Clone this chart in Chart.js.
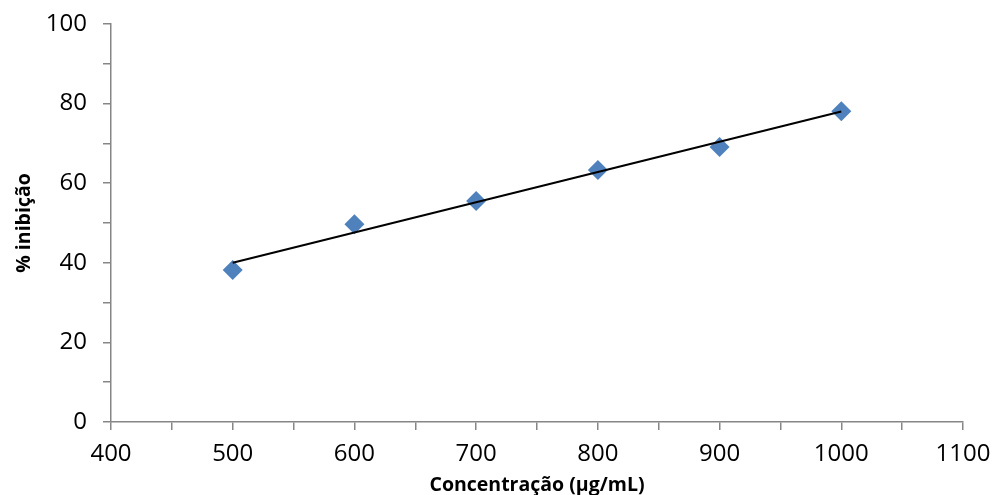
<!DOCTYPE html>
<html>
<head>
<meta charset="utf-8">
<script src="https://cdn.jsdelivr.net/npm/chart.js@4.4.0/dist/chart.umd.min.js"></script>
<style>
  html, body { margin: 0; padding: 0; background: #ffffff; }
  #wrap { width: 992px; height: 495px; }
</style>
</head>
<body>
<div id="wrap"><canvas id="c" width="992" height="495"></canvas></div>
<script>
// Data
const concentrations = [500, 600, 700, 800, 900, 1000];
const inhibition = [38.2, 49.7, 55.5, 63.3, 69.1, 78.1];
// Linear trendline end points
const trendX = [500, 1000];
const trendY = [40.0, 78.0];
// Axis settings
const xMin = 400, xMax = 1100, xMajor = 100, xMinor = 50;
const yMin = 0, yMax = 100, yMajor = 20, yMinor = 10;
const xTitle = 'Concentração (µg/mL)';
const yTitle = '% inibição';

const pointData = concentrations.map((x, i) => ({ x: x, y: inhibition[i] }));
const trendData = trendX.map((x, i) => ({ x: x, y: trendY[i] }));

const axisGray = '#868686';
const tickFont = { family: "'Open Sans', sans-serif", size: 24 };
const titleFont = { family: "'Open Sans', sans-serif", size: 19.5, weight: 'bold' };

new Chart(document.getElementById('c'), {
  type: 'scatter',
  data: {
    datasets: [
      {
        label: 'Linear',
        type: 'line',
        data: trendData,
        borderColor: '#000000',
        borderWidth: 2,
        pointRadius: 0,
        fill: false,
        order: 0
      },
      {
        label: '% inibição',
        data: pointData,
        pointStyle: 'rectRot',
        pointRadius: 10,
        pointHoverRadius: 10,
        backgroundColor: '#4F81BD',
        borderColor: '#4F81BD',
        borderWidth: 0,
        order: 1
      }
    ]
  },
  options: {
    responsive: false,
    animation: false,
    devicePixelRatio: 1,
    layout: { padding: { top: 24, right: 29, left: 0, bottom: 0 } },
    plugins: {
      legend: { display: false },
      tooltip: { enabled: false }
    },
    scales: {
      x: {
        type: 'linear',
        min: xMin,
        max: xMax,
        afterFit: (s) => { s.height = 73; s.paddingLeft = 0; s.paddingRight = 0; },
        ticks: {
          stepSize: xMinor,
          color: '#000000',
          font: tickFont,
          padding: 10,
          maxRotation: 0,
          autoSkip: false,
          callback: (v) => (v % xMajor === 0 ? String(v) : '')
        },
        grid: {
          drawOnChartArea: false,
          drawTicks: true,
          tickLength: 8,
          color: axisGray,
          lineWidth: 1.5
        },
        border: { display: true, color: axisGray, width: 1.5 },
        title: {
          display: true,
          text: xTitle,
          color: '#000000',
          font: titleFont,
          padding: { top: 0, bottom: -2 }
        }
      },
      y: {
        type: 'linear',
        min: yMin,
        max: yMax,
        afterFit: (s) => { s.width = 111; s.paddingTop = 0; s.paddingBottom = 0; },
        ticks: {
          stepSize: yMinor,
          color: '#000000',
          font: tickFont,
          padding: 16,
          autoSkip: false,
          callback: (v) => (v % yMajor === 0 ? String(v) : '')
        },
        grid: {
          drawOnChartArea: false,
          drawTicks: true,
          tickLength: 8,
          color: axisGray,
          lineWidth: 1.5
        },
        border: { display: true, color: axisGray, width: 1.5 },
        title: {
          display: true,
          text: yTitle,
          color: '#000000',
          font: titleFont,
          padding: { top: 13, bottom: 0 }
        }
      }
    }
  }
});
</script>
</body>
</html>
